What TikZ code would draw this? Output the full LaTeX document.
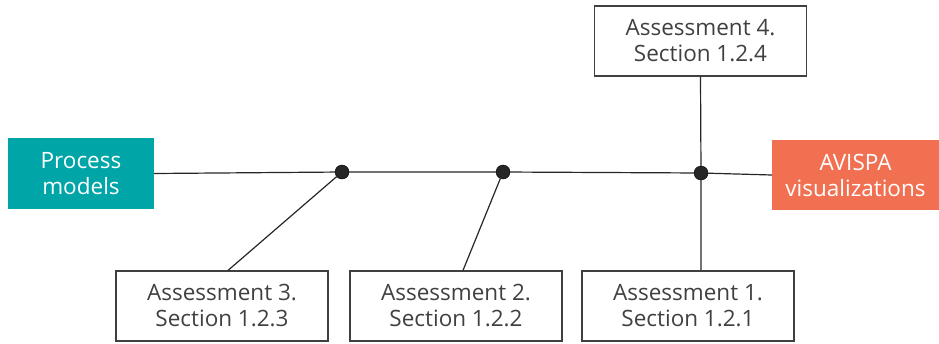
\documentclass[tikz,border=0pt]{standalone}
\usepackage{fontspec}
\setmainfont{Open Sans}
\usetikzlibrary{positioning}
\definecolor{tealbox}{HTML}{00A5A8}
\definecolor{orangebox}{HTML}{F27052}
\definecolor{textgray}{HTML}{404040}
\begin{document}
\begin{tikzpicture}[x=1pt, y=-1pt,
        assess/.style = {draw=textgray, line width=1.2pt, text=textgray, align=center,
                         minimum width=212pt, minimum height=70pt,
                         font=\fontsize{22.5}{26}\selectfont},
        endbox/.style = {fill=#1, text=white, align=center, inner sep=0pt,
                         font=\fontsize{22.5}{26}\selectfont},
        joint/.style  = {circle, fill=black!85, draw=black, inner sep=0pt, minimum size=14pt},
        link/.style   = {line width=1.2pt, black!85}]
            \useasboundingbox (0,0) rectangle (939,343);

            % End boxes
            \node [endbox=tealbox, minimum width=146pt, minimum height=71pt] (pm) at (81,173.5) {Process\\models};
            \node [endbox=orangebox, minimum width=167pt, minimum height=70pt] (av) at (855.5,175) {AVISPA\\visualizations};

            % Assessments
            \node [assess] (a4) at (700.5,41)  {Assessment 4.\\Section 1.2.4};
            \node [assess] (a3) at (222,306)   {Assessment 3.\\Section 1.2.3};
            \node [assess] (a2) at (456,306)   {Assessment 2.\\Section 1.2.2};
            \node [assess] (a1) at (688,306)   {Assessment 1.\\Section 1.2.1};

            % Joints
            \node [joint] (d1) at (342,172) {};
            \node [joint] (d2) at (503,172) {};
            \node [joint] (d3) at (701,173) {};

            % Lines
            \draw [link] (pm.east) -- (d1) -- (d2) -- (d3) -- (av.west);
            \draw [link] (d1) -- ([xshift=6pt]a3.north);
            \draw [link] (d2) -- ([xshift=7pt]a2.north);
            \draw [link] (a4.south) -- (d3) -- (d3 |- a1.north);
        \end{tikzpicture}
\end{document}
